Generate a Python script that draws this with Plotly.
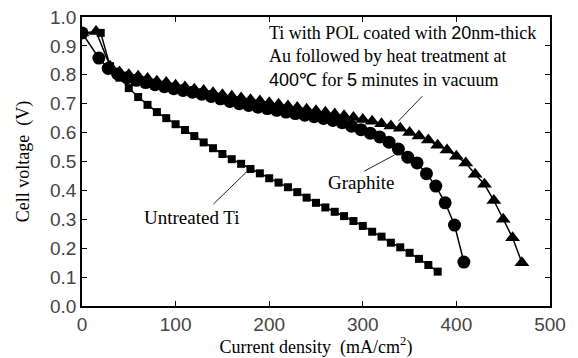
import plotly.graph_objects as go

# Ti with POL coated with 20nm Au + heat treatment (triangles)
au_x = [0, 15, 30, 40, 50, 60, 70, 80, 90, 100, 110, 120, 130, 140, 150, 160, 170,
        180, 190, 200, 210, 220, 230, 240, 250, 260, 270, 280, 290, 300, 310, 320,
        330, 340, 350, 360, 370, 380, 390, 400, 410, 420, 430, 440, 450, 460, 470]
au_v = [0.945, 0.95, 0.83, 0.81, 0.80, 0.795, 0.787, 0.778, 0.773, 0.764, 0.758, 0.75,
        0.746, 0.738, 0.731, 0.726, 0.72, 0.714, 0.709, 0.703, 0.698, 0.692, 0.687,
        0.681, 0.676, 0.67, 0.664, 0.658, 0.652, 0.645, 0.639, 0.631, 0.623, 0.615,
        0.60, 0.588, 0.574, 0.556, 0.54, 0.518, 0.495, 0.456, 0.421, 0.365, 0.30,
        0.236, 0.15]

# Graphite (circles)
gr_x = [0, 18, 28, 38, 48, 58, 68, 78, 88, 98, 108, 118, 128, 138, 148, 158, 168,
        178, 188, 198, 208, 218, 228, 238, 248, 258, 268, 278, 288, 298, 308, 318,
        328, 338, 348, 358, 368, 378, 388, 398, 408]
gr_v = [0.945, 0.858, 0.822, 0.803, 0.79, 0.781, 0.773, 0.766, 0.759, 0.752, 0.746,
        0.74, 0.733, 0.725, 0.717, 0.708, 0.70, 0.694, 0.688, 0.683, 0.677, 0.671,
        0.666, 0.66, 0.655, 0.649, 0.642, 0.634, 0.622, 0.61, 0.598, 0.585, 0.567,
        0.543, 0.515, 0.495, 0.458, 0.415, 0.357, 0.28, 0.152]

# Untreated Ti (squares)
ti_x = [0, 20, 30, 40, 50, 60, 70, 80, 90, 100, 110, 120, 130, 140, 150, 160, 170,
        180, 190, 200, 210, 220, 230, 240, 250, 260, 270, 280, 290, 300, 310, 320,
        330, 340, 350, 360, 370, 380]
ti_v = [0.945, 0.945, 0.83, 0.79, 0.754, 0.723, 0.696, 0.671, 0.65, 0.629, 0.609,
        0.588, 0.566, 0.546, 0.526, 0.508, 0.492, 0.474, 0.459, 0.442, 0.427, 0.411,
        0.394, 0.375, 0.357, 0.341, 0.326, 0.311, 0.294, 0.277, 0.257, 0.24, 0.219,
        0.203, 0.184, 0.163, 0.142, 0.119]

x_ticks = [0, 100, 200, 300, 400, 500]
y_ticks = [0.0, 0.1, 0.2, 0.3, 0.4, 0.5, 0.6, 0.7, 0.8, 0.9, 1.0]

SERIF = "Liberation Serif"
SANS = "Liberation Sans"

fig = go.Figure()
fig.add_trace(go.Scatter(x=au_x, y=au_v, mode="lines+markers",
                         line=dict(color="black", width=1.5),
                         marker=dict(symbol="triangle-up", size=13, color="black"),
                         name="Ti with POL coated with Au"))
fig.add_trace(go.Scatter(x=gr_x, y=gr_v, mode="lines+markers",
                         line=dict(color="black", width=1.5),
                         marker=dict(symbol="circle", size=13, color="black"),
                         name="Graphite"))
fig.add_trace(go.Scatter(x=ti_x, y=ti_v, mode="lines+markers",
                         line=dict(color="black", width=1.5),
                         marker=dict(symbol="square", size=8, color="black"),
                         name="Untreated Ti"))

num = lambda s: f"<span style='font-family:{SANS}'>{s}</span>"
main_text = (f"Ti with POL coated with {num('20')}nm-thick<br>"
             f"Au followed by heat treatment at<br>"
             f"{num('400')}℃ for {num('5')} minutes in vacuum")

annotations = [
    dict(x=197.5, y=0.862, xref="x", yref="y", text=main_text, showarrow=False,
         xanchor="left", yanchor="middle", align="left",
         font=dict(family=SERIF, size=18, color="black")),
    dict(x=298, y=0.429, xref="x", yref="y", text="Graphite", showarrow=False,
         font=dict(family=SERIF, size=19, color="black")),
    dict(x=117.5, y=0.305, xref="x", yref="y", text="Untreated Ti", showarrow=False,
         font=dict(family=SERIF, size=19, color="black")),
]

# leader lines anchored to data points, offsets in pixels (y up)
def leader(xa, ya, dx0, dy0, dx1, dy1):
    return dict(type="line", xref="x", yref="y",
                xsizemode="pixel", ysizemode="pixel", xanchor=xa, yanchor=ya,
                x0=dx0, y0=dy0, x1=dx1, y1=dy1,
                line=dict(color="#222", width=1))

shapes = [
    leader(au_x[33], au_v[33], 22, 32, -2, 7),
    leader(gr_x[33], gr_v[33], -34, -22, -4, -6),
    leader(ti_x[17], ti_v[17], -37, -35, -4, -3),
]

fig.update_layout(
    width=578, height=358,
    margin=dict(l=82, r=28, t=17, b=52),
    paper_bgcolor="white", plot_bgcolor="white",
    showlegend=False,
    annotations=annotations,
    shapes=shapes,
)
fig.update_xaxes(
    range=[0, 500], tickvals=x_ticks, ticktext=[str(v) for v in x_ticks],
    ticks="inside", ticklen=5, tickwidth=1, tickcolor="black",
    showline=True, linecolor="black", linewidth=1.5, mirror="ticks",
    showgrid=False, zeroline=False, automargin=False,
    tickfont=dict(family=SANS, size=19, color="#444"),
    title=dict(text="Current density  (mA/cm<sup>2</sup>)",
               font=dict(family=SERIF, size=18, color="black"), standoff=8),
)
fig.update_yaxes(
    range=[0, 1.0], tickvals=y_ticks, ticktext=[f"{v:.1f}" for v in y_ticks],
    ticks="inside", ticklen=5, tickwidth=1, tickcolor="black",
    showline=True, linecolor="black", linewidth=1.5, mirror="ticks",
    showgrid=False, zeroline=False, automargin=False,
    tickfont=dict(family=SANS, size=19, color="#444"),
    title=dict(text="Cell voltage  (V)",
               font=dict(family=SERIF, size=18, color="black"), standoff=16),
)

fig.write_html("out.html")
